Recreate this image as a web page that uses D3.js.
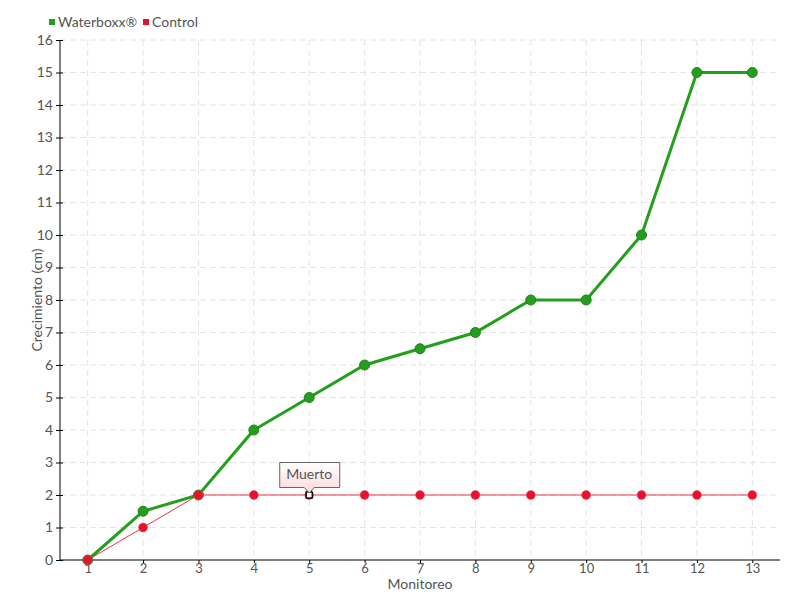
<!DOCTYPE html>
<html><head><meta charset="utf-8">
<script src="https://cdn.jsdelivr.net/npm/d3@7"></script>
<style>body{margin:0;background:#fff}svg{display:block}text{font-family:Lato,"DejaVu Sans Condensed",sans-serif;fill:#555}</style>
</head><body>
<svg id="c" width="800" height="600"></svg>
<script>
const categories = [1,2,3,4,5,6,7,8,9,10,11,12,13];
const waterboxx = [0,1.5,2,4,5,6,6.5,7,8,8,10,15,15];
const control = [0,1,2,2,2,2,2,2,2,2,2,2,2];
const yTicks = d3.range(0,17);
const seriesNames = ["Waterboxx®","Control"];
const annotation = {index:4, text:"Muerto"};

const svg = d3.select("#c");
const L=60,R=780,T=40,B=560;
const x = d3.scaleLinear().domain([0.5,13.5]).range([L,R]);
const y = d3.scaleLinear().domain([0,16]).range([B,T]);

const g = svg.append("g");
g.selectAll(".hg").data(yTicks.filter(d=>d>0)).join("line")
 .attr("x1",L).attr("x2",R).attr("y1",d=>y(d)).attr("y2",d=>y(d))
 .attr("stroke","#e4e4e4").attr("stroke-dasharray","6,4");
g.selectAll(".vg").data(categories).join("line")
 .attr("x1",d=>x(d)).attr("x2",d=>x(d)).attr("y1",T).attr("y2",B)
 .attr("stroke","#e4e4e4").attr("stroke-dasharray","6,4");

const yAxis = d3.axisLeft(y).tickValues(yTicks).tickSize(4).tickPadding(3);
const ya = svg.append("g").attr("transform",`translate(${L},0)`).call(yAxis);
ya.select(".domain").attr("stroke","#000").attr("d",`M0,${T}V${B}`);
ya.selectAll(".tick line").attr("stroke","#000").attr("x1",-4).attr("x2",3);
ya.selectAll("text").style("font-size","14px").attr("fill","#555");

const xAxis = d3.axisBottom(x).tickValues(categories).tickSize(3).tickPadding(1);
const xa = svg.append("g").attr("transform",`translate(0,${B})`).call(xAxis);
xa.select(".domain").attr("stroke","#000").attr("d",`M${L},0H${R}`);
xa.selectAll(".tick line").attr("stroke","#000");
xa.selectAll("text").style("font-size","13px").attr("fill","#555");

svg.append("text").attr("x",420).attr("y",589).attr("text-anchor","middle").style("font-size","14px").text("Monitoreo");
svg.append("text").attr("transform","translate(42,300) rotate(-90)").attr("text-anchor","middle").style("font-size","14px").text("Crecimiento (cm)");

const line = d3.line().x((d,i)=>x(categories[i])).y(d=>y(d));
svg.append("path").datum(waterboxx).attr("d",line).attr("fill","none").attr("stroke","#22a01c").attr("stroke-width",3);
svg.selectAll(".wp").data(waterboxx).join("circle")
 .attr("cx",(d,i)=>x(categories[i])).attr("cy",d=>y(d)).attr("r",5)
 .attr("fill","#22a01c").attr("stroke","#2a7a22").attr("stroke-width",1);
svg.append("path").datum(control).attr("d",line).attr("fill","none").attr("stroke","#ee3344").attr("stroke-width",1);
svg.selectAll(".cp").data(control).join("circle")
 .attr("cx",(d,i)=>x(categories[i])).attr("cy",d=>y(d)).attr("r",4.5)
 .attr("fill","#e8102a").attr("stroke","#e05060").attr("stroke-width",0.5);
const ax=x(categories[annotation.index]), ay=y(control[annotation.index]);
svg.append("rect").attr("x",ax-3).attr("y",ay-3).attr("width",6).attr("height",6).attr("fill","#fff").attr("stroke","#000").attr("stroke-width",1.3);

const defs=svg.append("defs");
const gr=defs.append("linearGradient").attr("id","tg").attr("x1",0).attr("x2",0).attr("y1",0).attr("y2",1);
gr.append("stop").attr("offset","0%").attr("stop-color","#ffffff");
gr.append("stop").attr("offset","100%").attr("stop-color","#fcd8d8");
const bx=ax-30, by=ay-33, bw=60, bh=25;
svg.append("path").attr("d",`M${bx+.5},${by+.5}H${bx+bw+.5}V${by+bh+.5}H${ax+5}L${ax},${by+bh+6}L${ax-5},${by+bh+.5}H${bx+.5}Z`)
 .attr("fill","url(#tg)").attr("stroke","#666").attr("stroke-width",1);
svg.append("text").attr("x",ax).attr("y",by+17).attr("text-anchor","middle").style("font-size","14px").text(annotation.text);

const leg = svg.append("g");
const lx=[49,143], colors=["#22a01c","#e8102a"];
seriesNames.forEach((n,i)=>{
  leg.append("rect").attr("x",lx[i]).attr("y",19).attr("width",6).attr("height",6).attr("fill",colors[i]);
  leg.append("text").attr("x",lx[i]+9).attr("y",27).style("font-size","14px").text(n);
});
</script>
</body></html>
